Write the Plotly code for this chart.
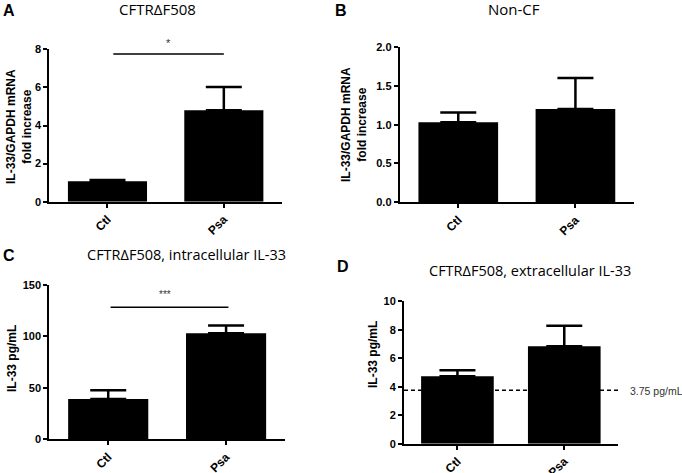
import plotly.graph_objects as go

# data
cats = ["Ctl", "Psa"]
a_mean = [1.08, 4.80]
a_err = [0.06, 1.22]
b_mean = [1.03, 1.20]
b_err = [0.125, 0.40]
c_mean = [39.0, 103.0]
c_err = [8.5, 7.5]
d_mean = [4.73, 6.84]
d_err = [0.42, 1.45]
d_limit = 3.75
a_sig_y = 7.75
c_sig_y = 128

W, H = 682, 473


def px_x(a, b):
    return [a / W, b / W]


def px_y(top, bottom):
    return [1 - bottom / H, 1 - top / H]


panels = [
    # (means, errs, yrange, dtick, tickformat, xdomain, ydomain)
    (a_mean, a_err, [0, 8], 2, "d", px_x(49.3, 282), px_y(49.3, 201.7)),
    (b_mean, b_err, [0, 2], 0.5, ".1f", px_x(399.7, 634), px_y(47, 202.3)),
    (c_mean, c_err, [0, 150], 50, "d", px_x(49.3, 285), px_y(284.7, 439.3)),
    (d_mean, d_err, [0, 10], 2, "d", px_x(404, 617.7), px_y(301.3, 443.7)),
]

ytick_font = dict(family="Arial, Liberation Sans", size=11, color="black", weight="bold")
xtick_font = dict(family="Arial, Liberation Sans", size=12, color="black", weight="bold")

fig = go.Figure()
layout = {}
for i, (m, e, yr, dt, tf, xd, yd) in enumerate(panels, start=1):
    sfx = "" if i == 1 else str(i)
    fig.add_trace(go.Bar(
        x=cats, y=m, width=0.68,
        marker=dict(color="black", line=dict(width=0)),
        error_y=dict(type="data", array=e, arrayminus=[0, 0], symmetric=False,
                     color="black", thickness=2.5, width=18),
        xaxis="x" + sfx, yaxis="y" + sfx, showlegend=False,
    ))
    layout["xaxis" + sfx] = dict(
        domain=xd, anchor="y" + sfx, range=[-0.5, 1.5], type="category",
        showline=True, linecolor="black", linewidth=2, ticks="outside",
        ticklen=4, tickwidth=2, tickcolor="black", tickangle=-45,
        tickfont=xtick_font, automargin=False,
        showgrid=False, zeroline=False, fixedrange=True,
    )
    layout["yaxis" + sfx] = dict(
        domain=yd, anchor="x" + sfx, range=yr, dtick=dt, tickformat=tf,
        showline=True, linecolor="black", linewidth=2, ticks="outside",
        ticklen=4, tickwidth=2, tickcolor="black", automargin=False,
        tickfont=ytick_font, showgrid=False, zeroline=False, fixedrange=True,
    )

fig.update_layout(
    width=W, height=H, margin=dict(l=0, r=0, t=0, b=0, autoexpand=False),
    paper_bgcolor="white", plot_bgcolor="white",
    font=dict(family="Arial, Liberation Sans", color="black"),
    **layout,
)

# significance bars
fig.add_shape(type="line", xref="x", yref="y", x0=0.05, x1=1.0,
              y0=a_sig_y, y1=a_sig_y, line=dict(color="black", width=1.5))
fig.add_shape(type="line", xref="x3", yref="y3", x0=0.02, x1=1.02,
              y0=c_sig_y, y1=c_sig_y, line=dict(color="black", width=1.5))

# detection limit in D
fig.add_shape(type="line", xref="x4 domain", yref="y4", x0=0, x1=1.01,
              y0=d_limit, y1=d_limit, layer="below",
              line=dict(color="black", width=1.5, dash="4px,3px"))

ann = []


def note(x, y, text, size, family="Arial, Liberation Sans", color="black", **kw):
    d = dict(x=x / W, y=1 - y / H, xref="paper", yref="paper", text=text,
             xanchor="center", yanchor="middle", showarrow=False,
             font=dict(size=size, color=color, family=family))
    d.update(kw)
    ann.append(d)


title_font = "Open Sans, Noto Sans"
note(157, 9, "CFTRΔF508", 15, family=title_font)
note(514, 9, "Non-CF", 15, family=title_font)
note(186, 254, "CFTRΔF508, intracellular IL-33", 14.5, family=title_font)
note(530, 270, "CFTRΔF508, extracellular IL-33", 14.5, family=title_font)

note(9, 10, "<b>A</b>", 16)
note(341, 10, "<b>B</b>", 16)
note(9, 255, "<b>C</b>", 16)
note(343, 266, "<b>D</b>", 16)

note(19, 127, "<b>IL-33/GAPDH mRNA<br>fold increase</b>", 12, textangle=-90)
note(354, 125, "<b>IL-33/GAPDH mRNA<br>fold increase</b>", 12, textangle=-90)
note(12, 359, "<b>IL-33 pg/mL</b>", 12, textangle=-90)
note(373, 355, "<b>IL-33 pg/mL</b>", 12, textangle=-90)

note(168, 43, "*", 11, color="#333")
note(165, 294, "***", 10, color="#333")
note(628, 391, "3.75 pg/mL", 10.5, color="#333", xanchor="left")

fig.update_layout(annotations=ann)
fig.write_html("out.html", config={"displayModeBar": False},
               post_script="document.body.style.margin='0';")
